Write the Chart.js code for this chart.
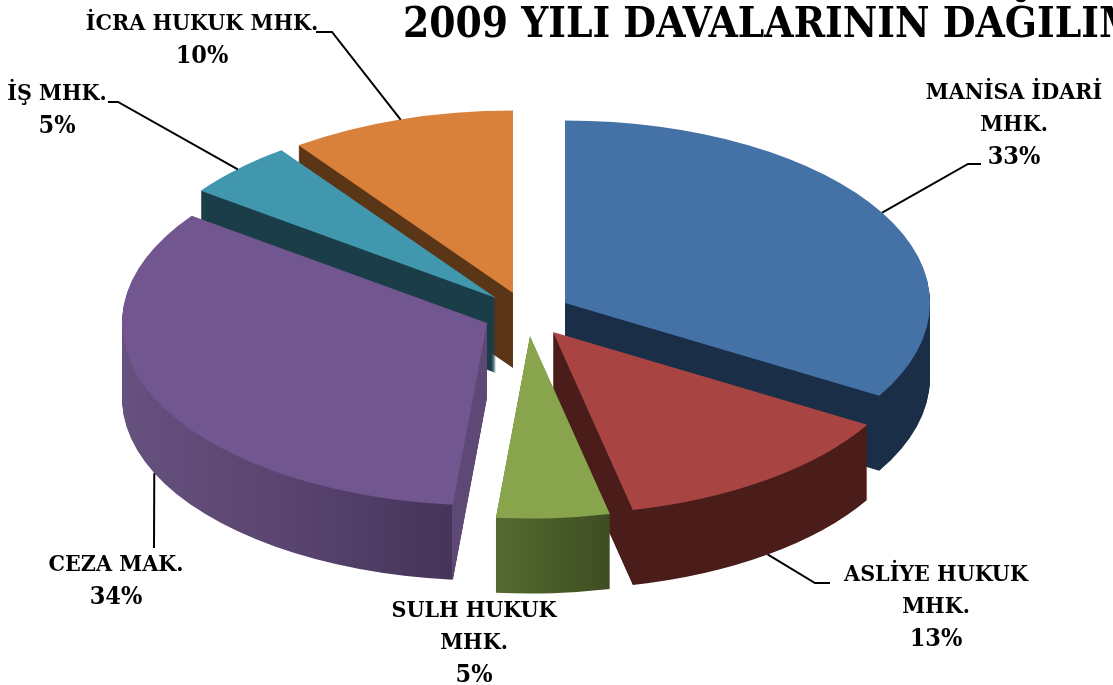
<!DOCTYPE html>
<html lang="tr">
<head>
<meta charset="utf-8">
<title>2009 YILI DAVALARININ DAĞILIMI</title>
<script src="https://cdn.jsdelivr.net/npm/chart.js@4"></script>
<style>
html,body{margin:0;padding:0;background:#fff;overflow:hidden}
#wrap{width:1113px;height:685px;position:relative}
</style>
</head>
<body>
<div id="wrap"><canvas id="c"></canvas></div>
<script>
const titleText = '2009 YILI DAVALARININ DAĞILIMI';
const categories = ['MANİSA İDARİ MHK.', 'ASLİYE HUKUK MHK.', 'SULH HUKUK MHK.', 'CEZA MAK.', 'İŞ MHK.', 'İCRA HUKUK MHK.'];
const values = [33.49, 13, 5, 33.51, 5, 10];
const labelLines = [['MANİSA İDARİ', 'MHK.'], ['ASLİYE HUKUK', 'MHK.'], ['SULH HUKUK', 'MHK.'], ['CEZA MAK.'], ['İŞ MHK.'], ['İCRA HUKUK MHK.']];

const topColors = ['#4472A6', '#A84542', '#88A54E', '#715690', '#4097AE', '#D9803B'];
// side wall paint: gradient stops [fraction across the pie's width, colour]
const sideStops = [
  [[0, '#1A2E48'], [1, '#1A2E48']],
  [[0, '#4A1C1A'], [1, '#4A1C1A']],
  [[0.451, '#546A30'], [0.605, '#3F4E22']],
  [[0, '#66517F'], [0.2, '#5B4672'], [0.452, '#46345A'], [0.4521, '#5E4876'], [1, '#5E4876']],
  [[0, '#1A3D47'], [1, '#1A3D47']],
  [[0, '#5A3516'], [1, '#5A3516']]
];
const paintOrder = [5, 4, 0, 3, 1, 2];
const radius = 365, tilt = 0.5, depth = 75, explode = 44;

// label layout: text centre x, first line centre y, leader elbow points, whether leader starts on the lower rim
const labelCenterX = [1014, 936, 474, 116, 57, 202];
const labelFirstY = [93, 575, 611, 565, 94, 24];
const labelLineGap = 32;
const leaderElbows = [[[968, 164], [981, 164]], [[815, 583], [830, 583]], [], [[154, 548]], [[118, 102], [108, 102]], [[332, 32], [316, 32]]];
const leaderOnLowerRim = [false, true, false, true, false, false];

const labelFont = 'bold 23px "DejaVu Serif Condensed", "DejaVu Serif"';
const percentFont = 'bold 25px "DejaVu Serif Condensed", "DejaVu Serif"';
const titleFont = 'bold 42px "DejaVu Serif Condensed", "DejaVu Serif"';

function sliceShift(el) {
  const mid = (el.startAngle + el.endAngle) / 2;
  return { dx: Math.cos(mid) * explode, dy: Math.sin(mid) * explode * tilt, mid };
}

function paintSlice(ctx, el, dy, fill) {
  const s = sliceShift(el);
  const saved = el.options;
  el.options = { backgroundColor: fill, borderColor: 'transparent', borderWidth: 0, offset: 0, spacing: 0, borderAlign: 'center', circular: true, borderRadius: 0 };
  ctx.save();
  ctx.translate(Math.round(el.x + s.dx), Math.round(el.y + s.dy) + dy);
  ctx.scale(1, tilt);
  ctx.translate(-el.x, -el.y);
  el.draw(ctx);
  ctx.restore();
  el.options = saved;
}

const pie3d = {
  id: 'pie3d',
  beforeDatasetsDraw(chart) {
    const ctx = chart.ctx;
    const arcs = chart.getDatasetMeta(0).data;
    paintOrder.forEach(i => {
      const el = arcs[i];
      const g = ctx.createLinearGradient(el.x - radius, 0, el.x + radius, 0);
      sideStops[i].forEach(([f, c]) => g.addColorStop(f, c));
      for (let d = depth; d >= 1; d--) paintSlice(ctx, el, d, g);
      paintSlice(ctx, el, 0, topColors[i]);
    });
    return false;
  },
  afterDraw(chart) {
    const ctx = chart.ctx;
    const arcs = chart.getDatasetMeta(0).data;
    ctx.save();
    ctx.strokeStyle = '#000';
    ctx.lineWidth = 2;
    arcs.forEach((el, i) => {
      const elbows = leaderElbows[i];
      if (!elbows.length) return;
      const s = sliceShift(el);
      const sx = el.x + s.dx + Math.cos(s.mid) * el.outerRadius;
      const sy = el.y + s.dy + Math.sin(s.mid) * el.outerRadius * tilt + (leaderOnLowerRim[i] ? depth : 0);
      ctx.beginPath();
      ctx.moveTo(sx, sy);
      elbows.forEach(p => ctx.lineTo(p[0], p[1]));
      ctx.stroke();
    });
    ctx.fillStyle = '#000';
    ctx.textAlign = 'center';
    ctx.textBaseline = 'middle';
    arcs.forEach((el, i) => {
      ctx.font = labelFont;
      labelLines[i].forEach((t, j) => ctx.fillText(t, labelCenterX[i], labelFirstY[i] + j * labelLineGap));
      ctx.font = percentFont;
      ctx.fillText(Math.round(values[i]) + '%', labelCenterX[i], labelFirstY[i] + labelLines[i].length * labelLineGap);
    });
    ctx.font = titleFont;
    ctx.textAlign = 'left';
    ctx.textBaseline = 'alphabetic';
    ctx.fillText(titleText, 403, 37);
    ctx.restore();
  }
};

new Chart(document.getElementById('c'), {
  type: 'pie',
  data: {
    labels: categories,
    datasets: [{ data: values, backgroundColor: topColors, borderWidth: 0, radius: radius }]
  },
  options: {
    responsive: true,
    maintainAspectRatio: false,
    animation: false,
    layout: { padding: { left: 0, top: 0, right: 59, bottom: 57 } },
    plugins: { legend: { display: false }, tooltip: { enabled: false }, title: { display: false } }
  },
  plugins: [pie3d]
});
</script>
</body>
</html>
